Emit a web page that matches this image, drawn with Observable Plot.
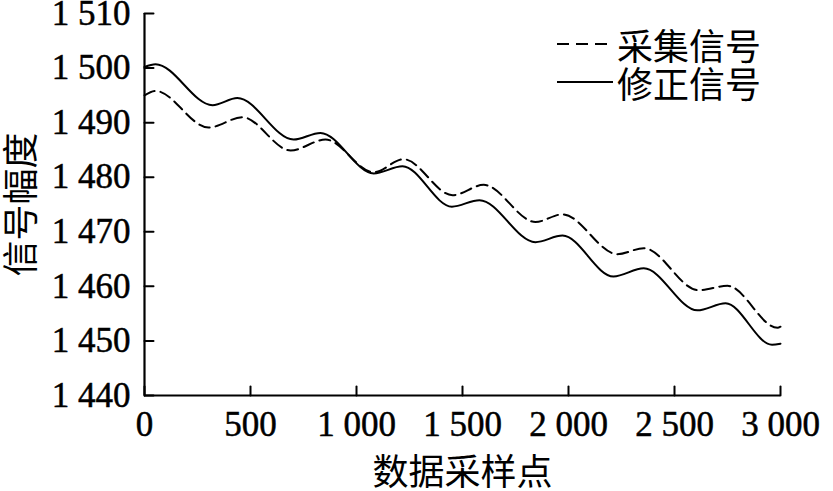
<!DOCTYPE html>
<html>
<head>
<meta charset="utf-8">
<script src="https://cdn.jsdelivr.net/npm/d3@7"></script>
<script src="https://cdn.jsdelivr.net/npm/@observablehq/plot@0.6"></script>
<style>
  body { margin: 0; background: #fff; }
  #wrap { position: relative; width: 833px; height: 491px; }
  #legend { position: absolute; left: 557px; top: 25px; font-family: "Noto Sans CJK SC", sans-serif; font-size: 36px; color: #000; line-height: 38px; }
  #legend .row { display: flex; align-items: center; height: 38px; }
  #legend svg { margin-right: 4px; }
  g[aria-label="x-axis tick label"] text, g[aria-label="y-axis tick label"] text { stroke: #000; stroke-width: 0.5px; }
</style>
</head>
<body>
<div id="wrap"><div id="legend"></div></div>
<script>
// tick values
const xTicks = [0, 500, 1000, 1500, 2000, 2500, 3000];
const yTicks = [1440, 1450, 1460, 1470, 1480, 1490, 1500, 1510];

// series names
const seriesNames = ["采集信号", "修正信号"];

// 修正信号 (solid)
const corrX = [0, 52, 321, 438, 703, 830, 1081, 1217, 1450, 1580, 1844, 1972, 2212, 2355, 2608, 2741, 2960, 3000];
const corrY = [1500.2, 1500.7, 1493.2, 1494.5, 1486.9, 1488.1, 1480.7, 1482.0, 1474.6, 1475.8, 1468.1, 1469.3, 1461.8, 1463.3, 1455.6, 1456.9, 1449.3, 1449.5];

// 采集信号 (dashed)
const rawX = [0, 52, 302, 462, 689, 854, 1081, 1222, 1453, 1600, 1844, 1972, 2231, 2355, 2613, 2750, 2986, 3000];
const rawY = [1495.0, 1495.8, 1489.1, 1491.0, 1484.9, 1486.9, 1480.9, 1483.3, 1476.7, 1478.6, 1471.8, 1473.2, 1465.9, 1467.0, 1459.3, 1460.1, 1452.4, 1452.6];

const raw = rawX.map((x, i) => ({x, y: rawY[i]}));
const corr = corrX.map((x, i) => ({x, y: corrY[i]}));
const fmt = d => d3.format(",")(d).replace(/,/g, " ");
const tickShape = {draw(context, l) { context.moveTo(0, 0); context.lineTo(0, -l); }};

const chart = Plot.plot({
  width: 833,
  height: 491,
  marginLeft: 144,
  marginRight: 53,
  marginTop: 13,
  marginBottom: 96,
  style: {fontFamily: "'Liberation Serif', 'Noto Sans CJK SC', serif", fontSize: "35px", color: "#000", background: "#fff"},
  x: {domain: [xTicks[0], xTicks[xTicks.length - 1]]},
  y: {domain: [yTicks[0], yTicks[yTicks.length - 1]]},
  marks: [
    Plot.axisX({ticks: xTicks, tickSize: 0, tickPadding: 16, tickFormat: fmt, label: null}),
    Plot.axisY({ticks: yTicks, tickSize: 0, tickPadding: 14, tickFormat: fmt, label: null}),
    Plot.vector(xTicks, {x: d => d, y: () => yTicks[0], length: 9, anchor: "start", rotate: 0, shape: tickShape, strokeWidth: 2, stroke: "#000"}),
    Plot.vector(yTicks, {x: () => xTicks[0], y: d => d, length: 9, anchor: "start", rotate: 90, shape: tickShape, strokeWidth: 2, stroke: "#000"}),
    Plot.ruleX([xTicks[0]], {strokeWidth: 2.2, stroke: "#000"}),
    Plot.ruleY([yTicks[0]], {strokeWidth: 2.2, stroke: "#000"}),
    Plot.line(raw, {x: "x", y: "y", curve: "monotone-x", stroke: "#000", strokeWidth: 2, strokeDasharray: "11,6"}),
    Plot.line(corr, {x: "x", y: "y", curve: "monotone-x", stroke: "#000", strokeWidth: 2}),
    Plot.text(["数据采样点"], {frameAnchor: "bottom", lineAnchor: "middle", textAnchor: "middle", dy: 78, fontSize: 36, fill: "#000", fontFamily: "Noto Sans CJK SC"}),
    Plot.text(["信号幅度"], {frameAnchor: "left", lineAnchor: "middle", textAnchor: "middle", dx: -122, rotate: -90, fontSize: 36, fill: "#000", fontFamily: "Noto Sans CJK SC"})
  ]
});
document.getElementById("wrap").prepend(chart);

const legend = document.getElementById("legend");
seriesNames.forEach((name, i) => {
  const row = document.createElement("div");
  row.className = "row";
  row.innerHTML = `<svg width="56" height="10"><line x1="0" y1="5" x2="56" y2="5" stroke="#000" stroke-width="2" ${i === 0 ? 'stroke-dasharray="12,7"' : ''}/></svg><span>${name}</span>`;
  legend.appendChild(row);
});
</script>
</body>
</html>
